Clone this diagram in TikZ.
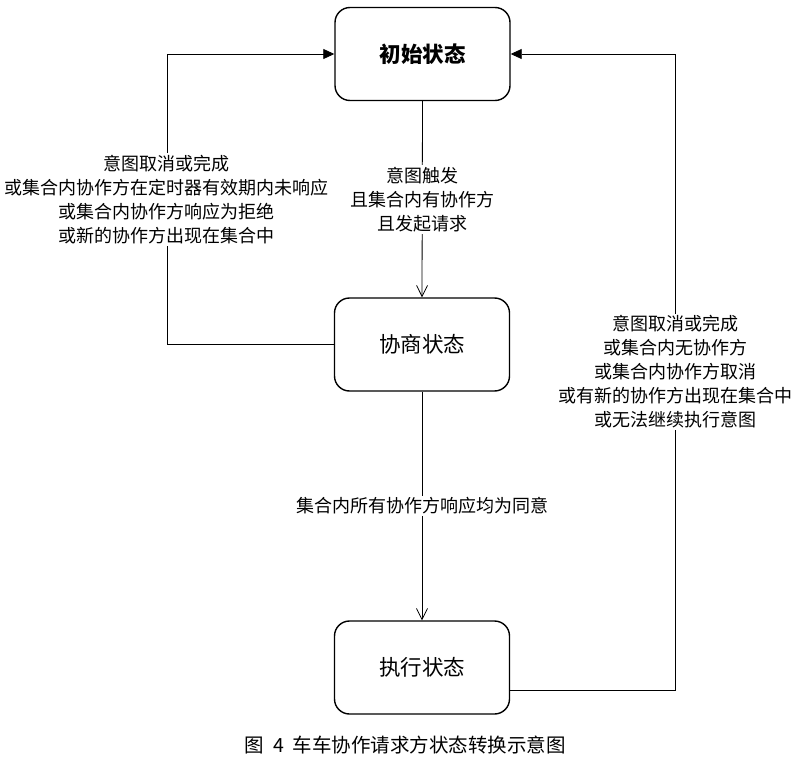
\documentclass[tikz,border=0pt]{standalone}
\usepackage{fontspec}
\setmainfont{Noto Sans CJK SC}
\usetikzlibrary{arrows.meta,positioning}
\tikzset{
  state/.style={draw,rounded corners=15pt,line width=1.4pt,minimum width=175pt,
                minimum height=93pt,inner sep=0pt,font=\fontsize{21.5}{24}\selectfont},
  lbl/.style={fill=white,align=center,inner sep=2pt,font=\fontsize{18}{24}\selectfont},
  go/.style={draw,line width=.8pt,-{Straight Barb[length=11pt,width=11pt,line width=.8pt]}},
  back/.style={draw,line width=.8pt,-{Triangle[length=11pt,width=10pt]}},
}
\begin{document}
\begin{tikzpicture}[x=1pt,y=-1pt]
  \useasboundingbox (0,0) rectangle (798,760);
  % states
  \node[state,font=\fontsize{21.5}{24}\selectfont\bfseries] (init) at (422.5,54) {初始状态};
  \node[state] (nego) at (422,344.5) {协商状态};
  \node[state] (exec) at (422,667.5) {执行状态};
  % bend points of the return paths
  \coordinate (lb) at (167,344.5);
  \coordinate (lt) at (167,54);
  \coordinate (rb) at (675,690);
  \coordinate (rt) at (675,54);
  % forward
  \draw[go] (init.south) -- node[lbl] (trig) {意图触发\\且集合内有协作方\\且发起请求} (nego.north);
  \draw[go] (nego.south) -- node[lbl] (agree) {集合内所有协作方响应均为同意} (exec.north);
  % back to the initial state
  \draw[back] (nego.west) -- (lb) -- node[lbl] (fail) {意图取消或完成\\或集合内协作方在定时器有效期内未响应\\或集合内协作方响应为拒绝\\或新的协作方出现在集合中} (lt) -- (init.west);
  \draw[back] (exec.east |- rb) -- (rb) -- node[lbl] (stop) {意图取消或完成\\或集合内无协作方\\或集合内协作方取消\\或有新的协作方出现在集合中\\或无法继续执行意图} (rt) -- (init.east);
  % caption
  \node[font=\fontsize{19.5}{22}\selectfont] (cap) at (405,745) {图\hspace{10pt}4\hspace{8pt}车车协作请求方状态转换示意图};
\end{tikzpicture}
\end{document}
